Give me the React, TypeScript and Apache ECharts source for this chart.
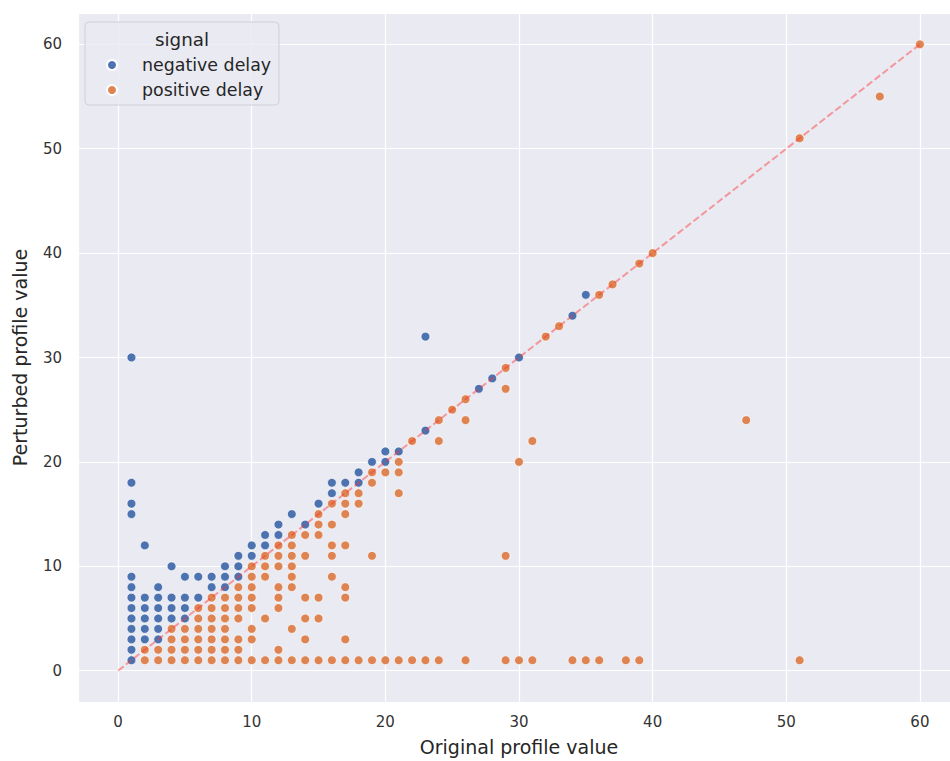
import React, { useEffect, useRef } from "react";
import * as echarts from "echarts";

// signal = negative delay: [original profile value, perturbed profile value]
const negativeDelay: number[][] = [
  [1, 1], [1, 2], [1, 3], [1, 4], [1, 5], [1, 6], [1, 7], [1, 8], [1, 9], [1, 15], [1, 16], [1, 18], [1, 30],
  [2, 3], [2, 4], [2, 5], [2, 6], [2, 7], [2, 12],
  [3, 3], [3, 4], [3, 5], [3, 6], [3, 7], [3, 8],
  [4, 5], [4, 6], [4, 7], [4, 10],
  [5, 5], [5, 6], [5, 7], [5, 9],
  [6, 7], [6, 9],
  [7, 8], [7, 9],
  [8, 8], [8, 9], [8, 10],
  [9, 9], [9, 10], [9, 11],
  [10, 11], [10, 12],
  [11, 12], [11, 13],
  [12, 13], [12, 14],
  [13, 15],
  [14, 14],
  [15, 16],
  [16, 17], [16, 18],
  [17, 18],
  [18, 18], [18, 19],
  [19, 20],
  [20, 20], [20, 21],
  [21, 21],
  [23, 23], [23, 32],
  [27, 27],
  [28, 28],
  [30, 30],
  [34, 34],
  [35, 36],
];

// signal = positive delay
const positiveDelay: number[][] = [
  [2, 1], [2, 2],
  [3, 1], [3, 2],
  [4, 1], [4, 2], [4, 3], [4, 4],
  [5, 1], [5, 2], [5, 3], [5, 4],
  [6, 1], [6, 2], [6, 3], [6, 4], [6, 5], [6, 6],
  [7, 1], [7, 2], [7, 3], [7, 4], [7, 5], [7, 6], [7, 7],
  [8, 1], [8, 2], [8, 3], [8, 4], [8, 5], [8, 6], [8, 7],
  [9, 1], [9, 2], [9, 3], [9, 5], [9, 6], [9, 7], [9, 8],
  [10, 1], [10, 3], [10, 4], [10, 6], [10, 7], [10, 8], [10, 9], [10, 10],
  [11, 1], [11, 5], [11, 9], [11, 10], [11, 11],
  [12, 1], [12, 2], [12, 6], [12, 7], [12, 8], [12, 10], [12, 11], [12, 12],
  [13, 1], [13, 4], [13, 8], [13, 9], [13, 10], [13, 11], [13, 12], [13, 13],
  [14, 1], [14, 3], [14, 5], [14, 7], [14, 11], [14, 13],
  [15, 1], [15, 5], [15, 7], [15, 13], [15, 14], [15, 15],
  [16, 1], [16, 9], [16, 11], [16, 12], [16, 14], [16, 16],
  [17, 1], [17, 3], [17, 7], [17, 8], [17, 12], [17, 15], [17, 16], [17, 17],
  [18, 1], [18, 16], [18, 17],
  [19, 1], [19, 11], [19, 18], [19, 19],
  [20, 1], [20, 19],
  [21, 1], [21, 17], [21, 19], [21, 20],
  [22, 1], [22, 22],
  [23, 1],
  [24, 1], [24, 22], [24, 24],
  [25, 25],
  [26, 1], [26, 24], [26, 26],
  [29, 1], [29, 11], [29, 27], [29, 29],
  [30, 1], [30, 20],
  [31, 1], [31, 22],
  [32, 32],
  [33, 33],
  [34, 1],
  [35, 1],
  [36, 1], [36, 36],
  [37, 37],
  [38, 1],
  [39, 1], [39, 39],
  [40, 40],
  [47, 24],
  [51, 1], [51, 51],
  [57, 55],
  [60, 60],
];

const identityLine: number[][] = [[0, 0], [60, 60]];

const legendTitle = "signal";
const seriesNames = ["negative delay", "positive delay"];
const xAxisName = "Original profile value";
const yAxisName = "Perturbed profile value";

const FONT = "DejaVu Sans";
const BLUE = "#4C72B0";
const ORANGE = "#DD8452";

export default function App() {
  const ref = useRef<HTMLDivElement>(null);

  useEffect(() => {
    if (!ref.current) return;
    const chart = echarts.init(ref.current, undefined, { renderer: "svg" });
    const tickFormatter = (v: number) => (Math.abs(v % 10) < 1e-9 ? String(v) : "");
    chart.setOption({
      animation: false,
      backgroundColor: "#ffffff",
      textStyle: { fontFamily: FONT },
      grid: {
        left: 78,
        right: -10,
        top: 13,
        bottom: 59,
        show: true,
        backgroundColor: "#EAEAF2",
        borderWidth: 0,
        outerBoundsMode: "none",
        containLabel: false,
      },
      xAxis: {
        type: "value",
        min: -3,
        max: 63,
        minInterval: 10,
        maxInterval: 10,
        name: xAxisName,
        nameLocation: "middle",
        nameGap: 35,
        nameTextStyle: { fontFamily: FONT, fontSize: 19, color: "#262626" },
        axisLine: { show: false },
        axisTick: { show: false },
        axisLabel: {
          fontFamily: FONT,
          fontSize: 15,
          color: "#333333",
          margin: 12,
          formatter: tickFormatter,
        },
        splitLine: { show: true, lineStyle: { color: "#ffffff", width: 1.2 } },
      },
      yAxis: {
        type: "value",
        min: -3,
        max: 63,
        minInterval: 10,
        maxInterval: 10,
        name: yAxisName,
        nameLocation: "middle",
        nameGap: 49,
        nameTextStyle: { fontFamily: FONT, fontSize: 19, color: "#262626" },
        axisLine: { show: false },
        axisTick: { show: false },
        axisLabel: {
          fontFamily: FONT,
          fontSize: 15,
          color: "#333333",
          margin: 16,
          formatter: tickFormatter,
        },
        splitLine: { show: true, lineStyle: { color: "#ffffff", width: 1.2 } },
      },
      legend: {
        orient: "vertical",
        left: 106,
        top: 55,
        padding: 0,
        itemGap: 5,
        itemWidth: 10,
        itemHeight: 10,
        icon: "circle",
        z: 20,
        data: seriesNames,
        textStyle: {
          fontFamily: FONT,
          fontSize: 17.4,
          color: "#262626",
          lineHeight: 20,
          padding: [0, 0, 0, 20],
        },
      },
      graphic: [
        {
          type: "rect",
          x: 85,
          y: 22,
          z: 5,
          shape: { width: 194, height: 83, r: 4 },
          style: { fill: "rgba(234,234,242,0.8)", stroke: "#cfcfd6", lineWidth: 1 },
        },
        {
          type: "text",
          x: 182,
          y: 39,
          z: 6,
          style: {
            text: legendTitle,
            fontFamily: FONT,
            fontSize: 18.3,
            fill: "#262626",
            align: "center",
            verticalAlign: "middle",
          },
        },
      ],
      series: [
        {
          name: seriesNames[0],
          type: "scatter",
          data: negativeDelay,
          symbolSize: 8.8,
          itemStyle: { color: BLUE, borderColor: "#ffffff", borderWidth: 0.7, opacity: 1 },
          z: 3,
        },
        {
          name: seriesNames[1],
          type: "scatter",
          data: positiveDelay,
          symbolSize: 8.8,
          itemStyle: { color: ORANGE, borderColor: "#ffffff", borderWidth: 0.7, opacity: 1 },
          z: 3,
        },
        {
          name: "identity",
          type: "line",
          data: identityLine,
          symbol: "none",
          silent: true,
          z: 4,
          lineStyle: { color: "rgba(255,50,50,0.45)", width: 2, type: [7, 3] },
          tooltip: { show: false },
        },
      ],
    });
    return () => chart.dispose();
  }, []);

  return (
    <div
      ref={ref}
      style={{ position: "fixed", left: 0, top: 0, width: 950, height: 761 }}
    />
  );
}
